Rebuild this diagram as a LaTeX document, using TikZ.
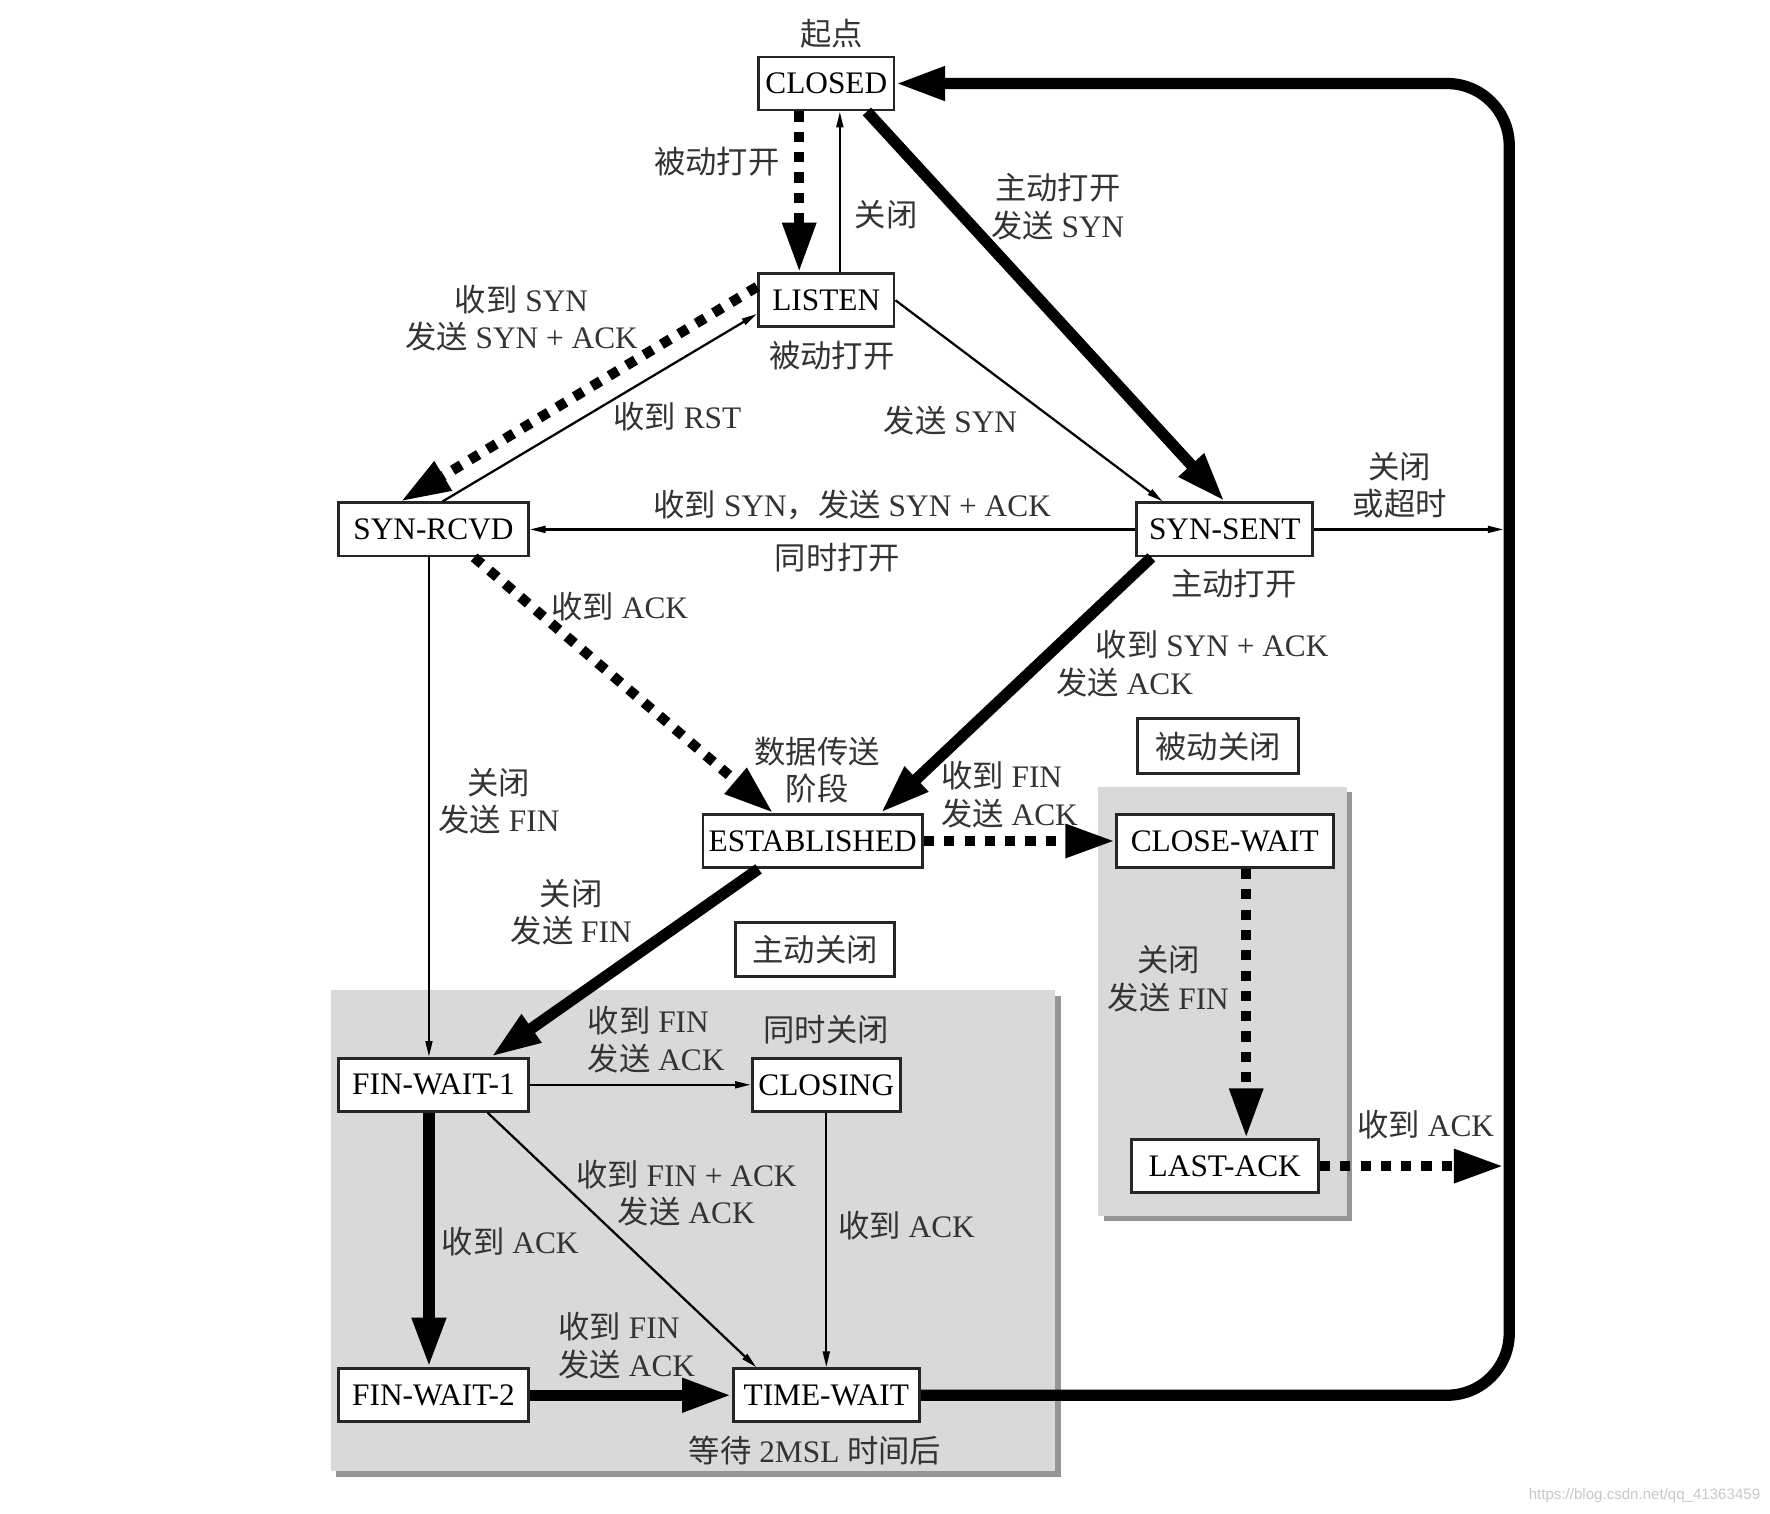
\documentclass[tikz,border=0pt]{standalone}
\usepackage{fontspec}
\setmainfont{Liberation Serif}
\newfontfamily\zh{Noto Sans CJK SC}
\newfontfamily\wmfont{Liberation Sans}
\usetikzlibrary{arrows.meta,calc}
\definecolor{regiongray}{RGB}{217,217,217}
\definecolor{shadowgray}{RGB}{150,150,150}
\newcommand{\tcpsize}{\fontsize{7.9}{9.4}\selectfont}

\begin{document}
\begin{tikzpicture}[x=0.1mm, y=-0.1mm,
	st/.style={draw=black!85, line width=0.25mm, fill=white, minimum height=4.7mm,
		inner xsep=0.5mm, inner ysep=0mm, font=\tcpsize},
	lb/.style={text=black!80, align=center, inner sep=0mm, font=\tcpsize},
	tn/.style={line width=0.2mm, -{Triangle[length=1.4mm, width=0.6mm]}},
	tk/.style={line width=1mm, -{Triangle[length=4.4mm, width=2.8mm]}},
	dt/.style={line width=0.9mm, dash pattern=on 0.9mm off 0.9mm,
		-{Triangle[length=4.4mm, width=2.8mm]}}]
	\useasboundingbox (0,0) rectangle (1568,1341);

	\fill[shadowgray] (298,882) rectangle (940,1308);
	\fill[regiongray] (293,877) rectangle (935,1303);
	\fill[shadowgray] (978,702) rectangle (1198,1082);
	\fill[regiongray] (973,697) rectangle (1193,1077);

	\node[st, minimum width=12mm] (closed) at (732,74) {CLOSED};
	\node[st, minimum width=12mm] (listen) at (732,266) {LISTEN};
	\node[st, minimum width=16.8mm] (rcvd) at (384,469) {SYN-RCVD};
	\node[st, minimum width=15.6mm] (sent) at (1085,469) {SYN-SENT};
	\node[st, minimum width=19.3mm] (estab) at (720,745) {ESTABLISHED};
	\node[st, minimum width=19.2mm] (cwait) at (1085,745) {CLOSE-WAIT};
	\node[st, minimum width=16.6mm] (lack) at (1085,1033) {LAST-ACK};
	\node[st, minimum width=16.8mm] (fw1) at (384,961) {FIN-WAIT-1};
	\node[st, minimum width=13.1mm] (closing) at (732,961) {CLOSING};
	\node[st, minimum width=16.8mm] (fw2) at (384,1236) {FIN-WAIT-2};
	\node[st, minimum width=16.5mm] (tw) at (732,1236) {TIME-WAIT};
	\node[st, minimum width=14.2mm, minimum height=4.9mm, text=black!80] (pclose) at (1079,661) {\zh 被动关闭};
	\node[st, minimum width=14.1mm, minimum height=4.8mm, text=black!80] (aclose) at (722,841) {\zh 主动关闭};

	\coordinate (ct) at (1337,74);
	\coordinate (cb) at (1337,1236);
	\coordinate (rs) at (1332,469);
	\coordinate (ra) at (1332,1033);

	\node[lb] (start) at (737,30) {\zh 起点};
	\node[lb] (t1) at (635,143) {\zh 被动打开};
	\node[lb] (t2) at (785,190) {\zh 关闭};
	\node[lb] (t3) at (937,183) {{\zh 主动打开}\\{\zh 发送} SYN};
	\node[lb] (t4) at (462,282) {{\zh 收到} SYN\\{\zh 发送} SYN + ACK};
	\node[lb] (t5) at (737,315) {\zh 被动打开};
	\node[lb] (t6) at (600,369) {{\zh 收到} RST};
	\node[lb] (t7) at (842,373) {{\zh 发送} SYN};
	\node[lb] (t8) at (755,447) {{\zh 收到} SYN{\zh ，发送} SYN + ACK};
	\node[lb] (t9) at (742,494) {\zh 同时打开};
	\node[lb] (t10) at (1240,430) {{\zh 关闭}\\{\zh 或超时}};
	\node[lb] (t11) at (1093,517) {\zh 主动打开};
	\node[lb] (t12) at (549,537) {{\zh 收到} ACK};
	\node[lb, align=left, anchor=west] (t13) at (935,588) {\hspace*{3.5mm}{\zh 收到} SYN + ACK\\{\zh 发送} ACK};
	\node[lb] (t14) at (724,682) {{\zh 数据传送}\\{\zh 阶段}};
	\node[lb, align=left, anchor=west] (t15) at (833,704) {{\zh 收到} FIN\\{\zh 发送} ACK};
	\node[lb] (t16) at (442,710) {{\zh 关闭}\\{\zh 发送} FIN};
	\node[lb] (t17) at (506,808) {{\zh 关闭}\\{\zh 发送} FIN};
	\node[lb] (t18) at (1035,867) {{\zh 关闭}\\{\zh 发送} FIN};
	\node[lb, align=left, anchor=west] (t19) at (520,921) {{\zh 收到} FIN\\{\zh 发送} ACK};
	\node[lb] (t20) at (732,912) {\zh 同时关闭};
	\node[lb] (t21) at (608,1057) {{\zh 收到} FIN + ACK\\{\zh 发送} ACK};
	\node[lb] (t22) at (452,1100) {{\zh 收到} ACK};
	\node[lb] (t23) at (803,1086) {{\zh 收到} ACK};
	\node[lb, align=left, anchor=west] (t24) at (494,1192) {{\zh 收到} FIN\\{\zh 发送} ACK};
	\node[lb] (t25) at (722,1285) {{\zh 等待} 2MSL {\zh 时间后}};
	\node[lb] (t26) at (1263,996) {{\zh 收到} ACK};
	\node[text=black!22, inner sep=0mm, anchor=east, font=\wmfont\fontsize{3.8}{4.5}\selectfont] (wm) at (1560,1325) {https://blog.csdn.net/qq\_41363459};

	\draw[dt] ($(closed.south)+(-24,0)$) -- ($(listen.north)+(-24,0)$);
	\draw[tn] ($(listen.north)+(12,0)$) -- ($(closed.south)+(12,0)$);
	\draw[tk] ($(closed.south)+(36,0)$) -- (sent.north);
	\draw[dt] ($(listen.west)+(0,-12)$) -- ($(rcvd.north)+(-29,0)$);
	\draw[tn] ($(rcvd.north)+(8,0)$) -- ($(listen.west)+(0,12)$);
	\draw[tn] (listen.east) -- ($(sent.north)+(-55,0)$);
	\draw[tn] (sent.west) -- (rcvd.east);
	\draw[tn] (sent.east) -- (rs);
	\draw[dt] ($(rcvd.south)+(36,0)$) -- ($(estab.north)+(-35,0)$);
	\draw[tk] ($(sent.south)+(-65,0)$) -- ($(estab.north)+(60,0)$);
	\draw[tn] ($(rcvd.south)+(-4,0)$) -- ($(fw1.north)+(-4,0)$);
	\draw[dt] (estab.east) -- (cwait.west);
	\draw[tk] ($(estab.south)+(-48,0)$) -- ($(fw1.north)+(51,0)$);
	\draw[dt] ($(cwait.south)+(19,0)$) -- ($(lack.north)+(19,0)$);
	\draw[dt] (lack.east) -- (ra);
	\draw[tn] (fw1.east) -- (closing.west);
	\draw[tk] ($(fw1.south)+(-4,0)$) -- ($(fw2.north)+(-4,0)$);
	\draw[tn] ($(fw1.south)+(48,0)$) -- ($(tw.north)+(-62,0)$);
	\draw[tn] (closing.south) -- (tw.north);
	\draw[tk] (fw2.east) -- (tw.west);
	\draw[tk, rounded corners=5.5mm] (tw.east) -- (cb) -- (ct) -- (closed.east);
\end{tikzpicture}
\end{document}
